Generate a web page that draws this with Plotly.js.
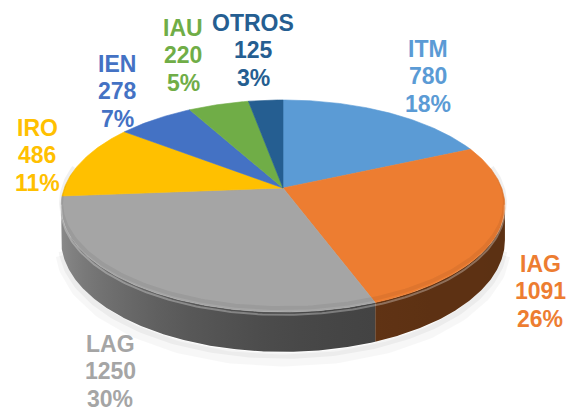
<!DOCTYPE html>
<html><head><meta charset="utf-8">
<script src="https://cdn.plot.ly/plotly-3.0.1.min.js"></script>
<style>html,body{margin:0;padding:0;background:#fff;}</style>
</head><body><div id="chart" style="width:577px;height:415px;"></div>
<script>
// ---- data ----
const categories = ["ITM", "IAG", "LAG", "IRO", "IEN", "IAU", "OTROS"];
const values = [780, 1091, 1250, 486, 278, 220, 125];
const colors = ["#5B9BD5", "#ED7D31", "#A5A5A5", "#FFC000", "#4472C4", "#70AD47", "#255E91"];
// label anchor positions (pixel space of the chart), centre of the 3-line block
const labelX = [428, 540, 110, 37, 117, 183, 253];
const labelY = [76, 291, 371, 155, 91, 55, 50];

// ---- 3D pie geometry (perspective projection of a tilted disc) ----
const CX = 283, CY = 188, A = 218.7, B = 103, K = 0.17, H = 33;
const LINE = 27.5;
function proj(deg, depth) {
  const t = deg * Math.PI / 180;
  const u = Math.sin(t), v = Math.cos(t);
  const w = 1 + K * v;
  return [CX + A * u / w, CY - B * v / w + depth * H / w];
}
function hexToRgb(h) { const n = parseInt(h.slice(1), 16); return [(n >> 16) & 255, (n >> 8) & 255, n & 255]; }
function shade(hex, f) { const c = hexToRgb(hex).map(x => Math.max(0, Math.min(255, Math.round(x * f)))); return `rgb(${c[0]},${c[1]},${c[2]})`; }
function sideFactor(deg) { const g = (1 - Math.sin(deg * Math.PI / 180)) / 2; return 0.39 + 0.46 * Math.pow(g, 3); }

const total = values.reduce((a, b) => a + b, 0);
const starts = [], ends = [];
let cum = 0;
values.forEach(v => { starts.push(cum / total * 360); cum += v; ends.push(cum / total * 360); });

const thR = Math.acos(-K) * 180 / Math.PI, thL = 360 - thR;
const traces = [];

function arcPts(a, b, depth, step) {
  const n = Math.max(1, Math.ceil(Math.abs(b - a) / step));
  const xs = [], ys = [];
  for (let j = 0; j <= n; j++) { const p = proj(a + (b - a) * j / n, depth); xs.push(p[0]); ys.push(p[1]); }
  return [xs, ys];
}

// soft shadow under the disc
[[12, 'rgba(0,0,0,0.03)', 1.22], [6, 'rgba(0,0,0,0.045)', 1.1]].forEach(s => {
  const [xs, ys] = arcPts(thR + 4, thL - 4, s[2], 1);
  traces.push({type: 'scatter', mode: 'lines', x: xs, y: ys, line: {color: s[1], width: s[0]}, hoverinfo: 'skip'});
});

// side walls (front half), one polygon per slice with a horizontal lighting gradient
values.forEach((v, i) => {
  const a = Math.max(starts[i], thR), b = Math.min(ends[i], thL);
  if (a >= b) return;
  const [tx, ty] = arcPts(a, b, 0, 0.5);
  const [bx, by] = arcPts(b, a, 1, 0.5);
  const xa = proj(a, 0)[0], xb = proj(b, 0)[0];
  const x0 = Math.min(xa, xb), x1 = Math.max(xa, xb);
  const n = 12, stops = [];
  for (let j = 0; j <= n; j++) {
    const th = a + (b - a) * j / n;
    const px = proj(th, 0)[0];
    stops.push([(x1 - x0) > 0.01 ? (px - x0) / (x1 - x0) : j / n, shade(colors[i], sideFactor(th))]);
  }
  stops.sort((p, q) => p[0] - q[0]);
  stops[0][0] = 0; stops[stops.length - 1][0] = 1;
  const mid = shade(colors[i], sideFactor((a + b) / 2));
  traces.push({type: 'scatter', mode: 'lines', x: tx.concat(bx, [tx[0]]), y: ty.concat(by, [ty[0]]),
    fill: 'toself', fillcolor: mid,
    fillgradient: {type: 'horizontal', start: x0, stop: x1, colorscale: stops},
    line: {color: 'rgba(0,0,0,0)', width: 0}, hoverinfo: 'skip'});
});

// top surfaces
values.forEach((v, i) => {
  const [ax, ay] = arcPts(starts[i], ends[i], 0, 0.5);
  traces.push({type: 'scatter', mode: 'lines', x: [CX].concat(ax, [CX]), y: [CY].concat(ay, [CY]),
    fill: 'toself', fillcolor: colors[i], line: {color: colors[i], width: 0.6}, hoverinfo: 'skip', name: categories[i]});
});

// bevel: darker band just inside the rim, then a highlight line on the edge
(function () {
  const [xs, ys] = arcPts(thR - 20, thL + 20, -0.1, 1);
  traces.push({type: 'scatter', mode: 'lines', x: xs, y: ys, line: {color: 'rgba(0,0,0,0.06)', width: 4}, hoverinfo: 'skip'});
  const [xs2, ys2] = arcPts(thR - 2, thL + 2, 0.07, 1);
  traces.push({type: 'scatter', mode: 'lines', x: xs2, y: ys2, line: {color: 'rgba(255,255,255,0.3)', width: 2}, hoverinfo: 'skip'});
})();

const annotations = [];
categories.forEach((c, i) => {
  const lines = [c, String(values[i]), Math.round(values[i] / total * 100) + '%'];
  lines.forEach((t, j) => annotations.push({
    x: labelX[i], y: labelY[i] + (j - 1) * LINE, xref: 'x', yref: 'y', showarrow: false,
    text: t, xanchor: 'center', yanchor: 'middle', borderpad: 0,
    font: {family: 'Liberation Sans, Arial, sans-serif', size: 23, color: colors[i], weight: 'bold'}
  }));
});

const layout = {
  width: 577, height: 415, margin: {l: 0, r: 0, t: 0, b: 0},
  paper_bgcolor: '#ffffff', plot_bgcolor: '#ffffff', showlegend: false, hovermode: false,
  xaxis: {range: [0, 577], visible: false, fixedrange: true},
  yaxis: {range: [415, 0], visible: false, fixedrange: true},
  annotations: annotations
};
Plotly.newPlot('chart', traces, layout, {displayModeBar: false, staticPlot: true});
</script></body></html>
